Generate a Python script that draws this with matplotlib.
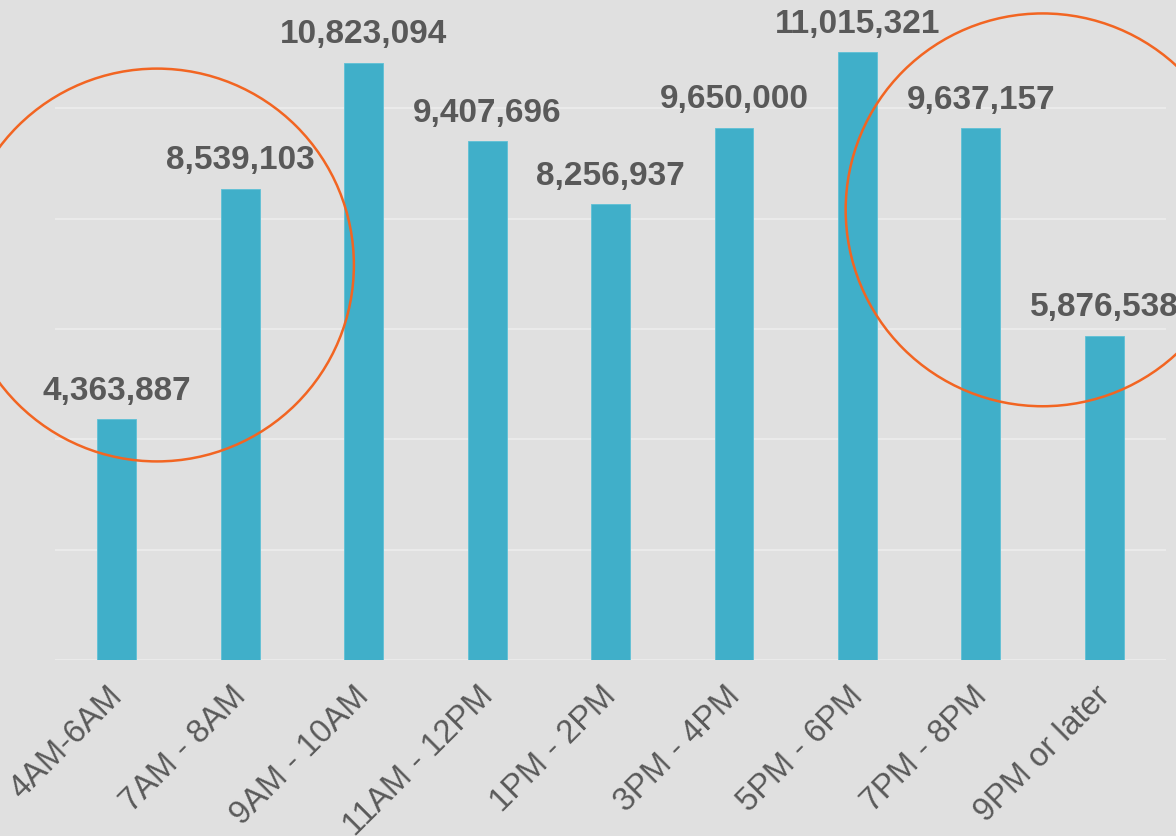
import matplotlib
matplotlib.use("Agg")
import matplotlib.pyplot as plt
import matplotlib.transforms as mtransforms
from matplotlib.patches import Ellipse
import numpy as np

# Data
time_slots = ["4AM-6AM", "7AM - 8AM", "9AM - 10AM", "11AM - 12PM", "1PM - 2PM",
              "3PM - 4PM", "5PM - 6PM", "7PM - 8PM", "9PM or later"]
counts = [4363887, 8539103, 10823094, 9407696, 8256937,
          9650000, 11015321, 9637157, 5876538]

BG = "#e0e0e0"
BAR = "#40afc9"
TEXT = "#595959"
ORANGE = "#f26522"

plt.rcParams["font.family"] = ["Liberation Sans", "DejaVu Sans"]

fig = plt.figure(figsize=(11.76, 8.36), dpi=100, facecolor=BG)
ax = fig.add_axes([0.0468, 0.2105, 0.9447, 0.7919])
ax.set_facecolor(BG)

x = np.arange(len(time_slots))
ax.bar(x, counts, width=0.315, color=BAR, edgecolor="#5ec0d6", linewidth=0.6, zorder=3)

for xi, v in zip(x, counts):
    ax.annotate(f"{v:,}", (xi, v), xytext=(0, 9), textcoords="offset points",
                ha="center", va="bottom", fontsize=24, fontweight="bold",
                color=TEXT, annotation_clip=False, zorder=4)

ax.set_xlim(-0.5, len(time_slots) - 0.5)
ax.set_ylim(0, 12e6)
ax.set_yticks(np.arange(0, 12e6 + 1, 2e6))
ax.yaxis.grid(True, color="#ebebeb", linewidth=1.4, zorder=0)
ax.tick_params(axis="y", left=False, labelleft=False)
ax.tick_params(axis="x", length=0, pad=15)
for s in ax.spines.values():
    s.set_visible(False)

ax.set_xticks(x)
ax.set_xticklabels(time_slots, rotation=45, ha="right", va="top",
                   rotation_mode="anchor", fontsize=23.5, color=TEXT)
# nudge tick labels a little to the left
shift = mtransforms.ScaledTranslation(-10 / 100, 0, fig.dpi_scale_trans)
for lbl in ax.get_xticklabels():
    lbl.set_transform(lbl.get_transform() + shift)

# highlight circles
for cx, cy in [(0.326, 7.16e6), (7.5, 8.16e6)]:
    ax.add_patch(Ellipse((cx, cy), width=3.19, height=7.12e6, fill=False,
                         edgecolor=ORANGE, linewidth=1.8, clip_on=False, zorder=5))

fig.savefig("out.png", dpi=100, facecolor=BG)
